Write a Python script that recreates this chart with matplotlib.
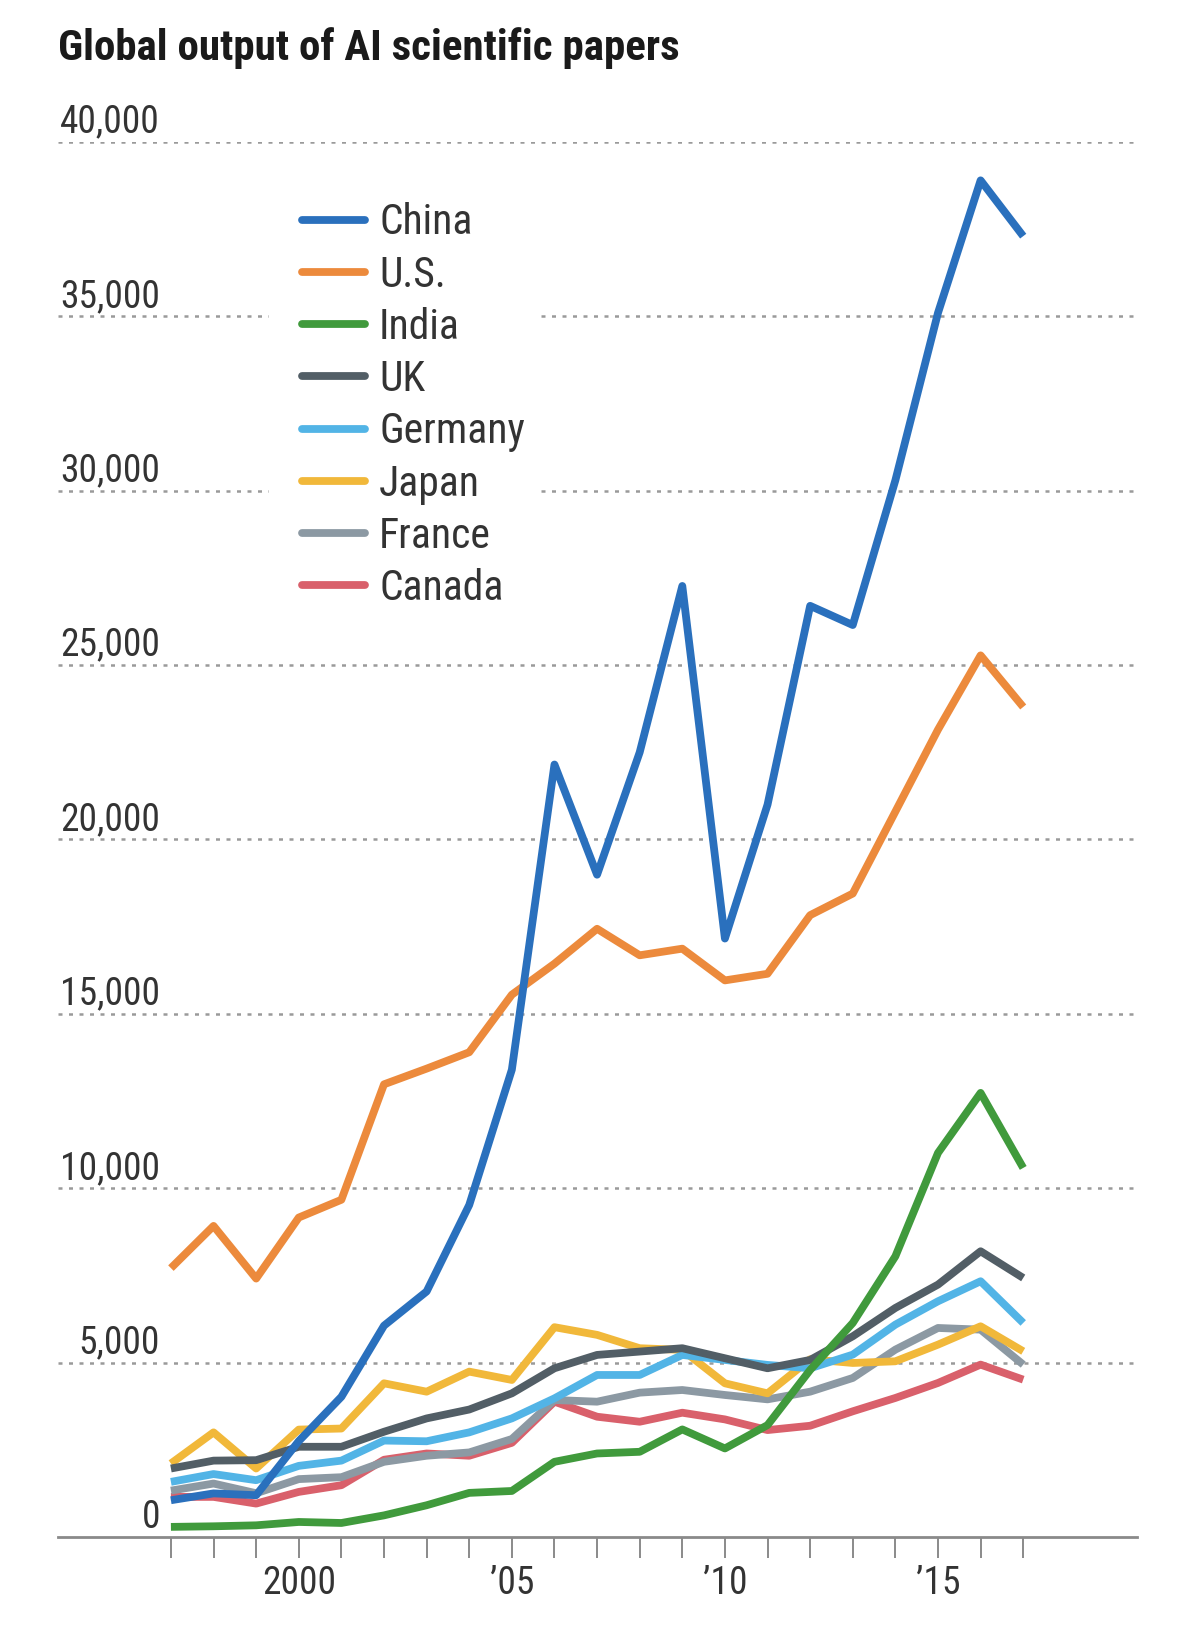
import matplotlib
matplotlib.use("Agg")
import matplotlib.pyplot as plt
from matplotlib import font_manager as fm
from matplotlib.patches import Rectangle

names = {f.name for f in fm.fontManager.ttflist}
FONT = "Liberation Sans"
for cand in ["Roboto Condensed", "Archivo Narrow", "PT Sans Narrow", "Liberation Sans Narrow"]:
    if cand in names:
        FONT = cand
        break
plt.rcParams["font.family"] = [FONT, "DejaVu Sans"]

years = list(range(1997, 2018))

china   = [1054, 1250, 1198, 2750, 4020, 6060, 7040, 9520, 13400, 22150, 18990, 22500, 27270, 17160, 21000, 26700, 26150, 30300, 35100, 38900, 37300]
us      = [7710, 8920, 7410, 9160, 9670, 12980, 13430, 13900, 15550, 16440, 17440, 16680, 16870, 15960, 16150, 17830, 18450, 20800, 23150, 25280, 23800]
india   = [290, 307, 335, 431, 402, 620, 910, 1265, 1320, 2156, 2395, 2443, 3085, 2539, 3209, 4790, 6137, 8049, 11013, 12734, 10583]
uk      = [1964, 2190, 2203, 2587, 2587, 3018, 3400, 3655, 4119, 4838, 5221, 5317, 5413, 5125, 4838, 5077, 5755, 6568, 7237, 8193, 7428]
germany = [1581, 1805, 1629, 2040, 2190, 2765, 2745, 3000, 3401, 3976, 4646, 4646, 5221, 5077, 4934, 4838, 5229, 6090, 6759, 7333, 6138]
japan   = [2108, 3000, 1964, 3080, 3110, 4407, 4167, 4742, 4503, 6016, 5796, 5413, 5365, 4407, 4119, 5097, 4990, 5038, 5516, 6042, 5325]
france  = [1330, 1533, 1255, 1660, 1715, 2156, 2330, 2425, 2810, 3928, 3880, 4139, 4215, 4072, 3947, 4167, 4560, 5373, 5994, 5946, 4943]
canada  = [1150, 1150, 958, 1293, 1485, 2215, 2395, 2330, 2700, 3880, 3449, 3305, 3564, 3372, 3066, 3190, 3604, 3987, 4417, 4943, 4512]

countries = ["China", "U.S.", "India", "UK", "Germany", "Japan", "France", "Canada"]
series = [china, us, india, uk, germany, japan, france, canada]
colors = ["#2a70bd", "#ec8a3c", "#409a3c", "#525e66", "#52b4e6", "#f1b83a", "#8c99a3", "#d9606b"]

ytick_values = [0, 5000, 10000, 15000, 20000, 25000, 30000, 35000, 40000]
ytick_labels = ["0", "5,000", "10,000", "15,000", "20,000", "25,000", "30,000", "35,000", "40,000"]
xtick_years = years
xtick_labels = ["", "", "", "2000", "", "", "", "", "’05", "", "", "", "", "’10", "", "", "", "", "’15", "", ""]

W, H = 1200, 1650
fig = plt.figure(figsize=(W / 100, H / 100), dpi=100)
x0, x1 = 58, 1137
y0, y1 = 1537, 142
ax = fig.add_axes([x0 / W, 1 - y0 / H, (x1 - x0) / W, (y0 - y1) / H])
ax.set_xlim(1994.35, 2019.67)
ax.set_ylim(0, 40000)

# gridlines
for v in ytick_values[1:]:
    ax.axhline(v, color="#9a9a9a", lw=1.8, ls=(0, (1.6, 2.6)), zorder=1)

# white panel behind the legend, interrupting the gridlines
ax.add_patch(Rectangle((269 / W, 1 - 600 / H), (539 - 269) / W, (600 - 175) / H,
                       transform=fig.transFigure, facecolor="white",
                       edgecolor="none", zorder=1.5, clip_on=False))

lines = {}
for name, vals, c in reversed(list(zip(countries, series, colors))):
    ln, = ax.plot(years, vals, color=c, lw=5.6, solid_joinstyle="round",
                  solid_capstyle="butt", zorder=3, clip_on=False)
    lines[name] = ln

for s in ["top", "right", "left"]:
    ax.spines[s].set_visible(False)
ax.spines["bottom"].set_color("#8a8a8a")
ax.spines["bottom"].set_linewidth(2.0)
ax.spines["bottom"].set_zorder(2)

ax.set_yticks([])
ax.set_xticks(xtick_years)
ax.set_xticklabels(xtick_labels)
ax.tick_params(axis="x", direction="out", length=15, width=1.4, color="#8a8a8a",
               pad=5, labelsize=27, labelcolor="#333333")

lab_x = (160 - x0) / (x1 - x0)
for v, t in zip(ytick_values, ytick_labels):
    ax.annotate(t, xy=(lab_x, v), xycoords=ax.get_yaxis_transform(),
                xytext=(0, 1), textcoords="offset points",
                ha="right", va="bottom", fontsize=27, color="#333333")

fig.text(58 / W, 1 - 48 / H, "Global output of AI scientific papers",
         ha="left", va="center", fontsize=31, fontweight="bold", color="#1a1a1a")

leg = ax.legend([lines[n] for n in countries], countries,
                loc="upper left", bbox_to_anchor=(269 / W, 1 - 169 / H),
                bbox_transform=fig.transFigure, frameon=False, fontsize=30,
                handlelength=1.5, handletextpad=0.34, labelspacing=0.27,
                borderpad=0.8, borderaxespad=0)
leg.set_zorder(4)
for t in leg.get_texts():
    t.set_color("#333333")
for h in leg.legend_handles:
    h.set_solid_capstyle("round")

fig.savefig("out.png", dpi=100, facecolor="white")
